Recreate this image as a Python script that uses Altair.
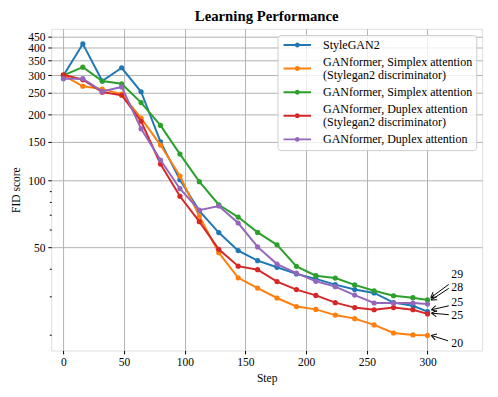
import math
import altair as alt
import pandas as pd

steps = [0, 16, 32, 48, 64, 80, 96, 112, 128, 144, 160, 176, 192, 208, 224, 240, 256, 272, 288, 300]

series_names = [
    "StyleGAN2",
    "GANformer, Simplex attention|(Stylegan2 discriminator)",
    "GANformer, Simplex attention",
    "GANformer, Duplex attention|(Stylegan2 discriminator)",
    "GANformer, Duplex attention",
]
stylegan2 = [300, 417, 283, 325, 253, 150, 101, 73, 58.2, 48.2, 43.4, 40.5, 37.8, 35.9, 33.8, 32.1, 31.0, 28.0, 27.1, 25.5]
simplex_sg2d = [300, 268, 260, 247, 192, 145, 105, 69, 47.2, 36.3, 32.6, 29.4, 26.9, 26.1, 24.6, 23.7, 22.2, 20.4, 20.0, 19.9]
simplex = [300, 327, 283, 275, 226, 178, 132, 99, 77.8, 68.4, 58.3, 51.2, 40.9, 37.1, 36.2, 33.7, 31.7, 30.1, 29.5, 28.8]
duplex_sg2d = [302, 287, 252, 244, 186, 119, 85, 65.2, 48.9, 41.0, 39.5, 34.9, 32.1, 30.2, 28.0, 26.6, 26.0, 26.6, 26.0, 24.9]
duplex = [290, 290, 254, 266, 172, 124, 92, 73.5, 76.8, 64.3, 50.1, 41.9, 38.1, 35.0, 33.1, 30.3, 27.9, 27.9, 27.9, 27.6]

colors = ["#1f77b4", "#ff7f0e", "#2ca02c", "#d62728", "#9467bd"]

# annotations (data coordinates)
ann_labels = ["29", "28", "25", "25", "20"]
ann_text_x = [319.6, 319.6, 319.6, 319.6, 319.6]
ann_text_y = [37.8, 33.0, 28.2, 24.6, 18.3]
ann_tail_x = [317.5, 317.5, 317.5, 317.5, 317.0]
ann_tail_y = [33.9, 32.5, 27.1, 24.7, 18.8]
ann_head_x = [302.7, 303.0, 303.2, 303.2, 303.0]
ann_head_y = [29.5, 28.8, 26.0, 25.1, 19.9]

x_ticks = [0, 50, 100, 150, 200, 250, 300]
y_ticks = [20, 30, 40, 50, 60, 70, 80, 90, 100, 150, 200, 250, 300, 350, 400, 450]

X_DOM = [-10, 345]
Y_DOM = [17, 488]
W, H = 438, 327
FONT = "Liberation Serif"
FS = 11.7
LEG_FS = 12.2
LINE_H = 13

all_series = [stylegan2, simplex_sg2d, simplex, duplex_sg2d, duplex]
rows = []
for name, vals in zip(series_names, all_series):
    for s, v in zip(steps, vals):
        rows.append({"series": name, "step": s, "fid": v})
df = pd.DataFrame(rows)


def px(x, y):
    xp = (x - X_DOM[0]) / (X_DOM[1] - X_DOM[0]) * W
    yp = H * (math.log10(Y_DOM[1]) - math.log10(y)) / (math.log10(Y_DOM[1]) - math.log10(Y_DOM[0]))
    return xp, yp


angles = []
for hx, hy, tx, ty in zip(ann_head_x, ann_head_y, ann_tail_x, ann_tail_y):
    hxp, hyp = px(hx, hy)
    txp, typ = px(tx, ty)
    angles.append(math.degrees(math.atan2(typ - hyp, txp - hxp)) % 360)

ann = pd.DataFrame({
    "label": ann_labels, "tx": ann_text_x, "ty": ann_text_y,
    "ax": ann_tail_x, "ay": ann_tail_y, "hx": ann_head_x, "hy": ann_head_y,
    "angle": angles,
})

xscale = alt.Scale(domain=X_DOM, nice=False, zero=False)
yscale = alt.Scale(type="log", domain=Y_DOM, nice=False)
cscale = alt.Scale(domain=series_names, range=colors)

major_test = "datum.value >= 50 && datum.value % 50 == 0"

x_axis = alt.Axis(
    values=x_ticks, title="Step", format="d", grid=True, gridColor="#b0b0b0", gridWidth=1,
    tickSize=3.5, tickColor="black", domain=False, labelFont=FONT, labelFontSize=FS,
    labelColor="black", titleFont=FONT, titleFontSize=FS, titleFontWeight="normal",
    titleColor="black", labelPadding=3, titlePadding=4,
)
y_axis = alt.Axis(
    values=y_ticks, title="FID score", format="d",
    labelExpr="(datum.value >= 50 && datum.value % 50 == 0) ? datum.label : ''",
    labelOverlap=False, grid=True, gridColor="#b0b0b0", gridWidth=1,
    gridOpacity={"condition": {"test": major_test, "value": 1}, "value": 0},
    tickSize={"condition": {"test": major_test, "value": 3.5}, "value": 2},
    tickColor="black", domain=False, labelFont=FONT, labelFontSize=FS, labelColor="black",
    titleFont=FONT, titleFontSize=FS, titleFontWeight="normal", titleColor="black",
    labelPadding=3, titlePadding=6,
)

# legend symbols: line with marker; two-line entries get the symbol centred on both lines
R = 4.0  # sqrt(symbol size) / 2


def sym_path(dy_px):
    d = dy_px / R
    hl = 14.0 / R
    c = 1.5 / R
    return (f"M{-hl},{d}L{hl},{d}"
            f"M{c},{d}A{c},{c},0,1,1,{-c},{d}A{c},{c},0,1,1,{c},{d}Z")


shape_range = [sym_path(LINE_H / 2 if "|" in n else 0) for n in series_names]

legend = alt.Legend(
    title=None, orient="none", legendX=230, legendY=6.3,
    labelExpr="split(datum.label, '|')",
    symbolSize=64, symbolStrokeWidth=2, symbolOffset=10,
    labelFont=FONT, labelFontSize=LEG_FS, labelColor="black", labelLimit=400,
    labelOffset=20, padding=4, rowPadding=4.5,
    strokeColor="#cccccc", cornerRadius=3, fillColor="rgba(255,255,255,0.8)",
)

layers = []
for name in series_names:
    b = alt.Chart(df).transform_filter(alt.datum.series == name).encode(
        x=alt.X("step:Q", scale=xscale, axis=x_axis),
        y=alt.Y("fid:Q", scale=yscale, axis=y_axis),
        color=alt.Color("series:N", scale=cscale, legend=legend),
    )
    layers.append(b.mark_line(strokeWidth=2))
    layers.append(b.mark_point(filled=True, size=28, opacity=1))

legend_layer = alt.Chart(df).transform_filter("false").mark_point(
    filled=False, size=64, strokeWidth=2, opacity=1
).encode(
    x=alt.X("step:Q", scale=xscale, axis=x_axis),
    y=alt.Y("fid:Q", scale=yscale, axis=y_axis),
    color=alt.Color("series:N", scale=cscale, legend=legend),
    shape=alt.Shape("series:N", scale=alt.Scale(domain=series_names, range=shape_range), legend=legend),
)

ann_base = alt.Chart(ann)
rules = ann_base.mark_rule(color="black", strokeWidth=1).encode(
    x=alt.X("ax:Q", scale=xscale), y=alt.Y("ay:Q", scale=yscale),
    x2="hx:Q", y2="hy:Q",
)
heads = ann_base.mark_point(
    shape="M0,0L1,-0.6M0,0L1,0.6", filled=False, color="black", strokeWidth=1, size=110, opacity=1
).encode(
    x=alt.X("hx:Q", scale=xscale), y=alt.Y("hy:Q", scale=yscale),
    angle=alt.Angle("angle:Q", scale=None),
)
texts = ann_base.mark_text(
    align="left", baseline="middle", font=FONT, fontSize=12, color="black"
).encode(
    x=alt.X("tx:Q", scale=xscale), y=alt.Y("ty:Q", scale=yscale), text="label:N",
)

chart = alt.layer(*layers, legend_layer, rules, heads, texts).properties(
    width=W, height=H,
    title=alt.Title("Learning Performance", font=FONT, fontSize=15, fontWeight="bold",
                    color="black", anchor="middle", offset=5),
    autosize=alt.AutoSizeParams(type="none"),
    padding={"left": 44, "top": 18, "right": 8, "bottom": 36},
).configure_view(stroke="black", strokeWidth=1.2).configure(
    background="white", style={"guide-label": {"lineHeight": LINE_H}}
)

chart.save("out.html", embed_options={"renderer": "svg", "actions": False})
